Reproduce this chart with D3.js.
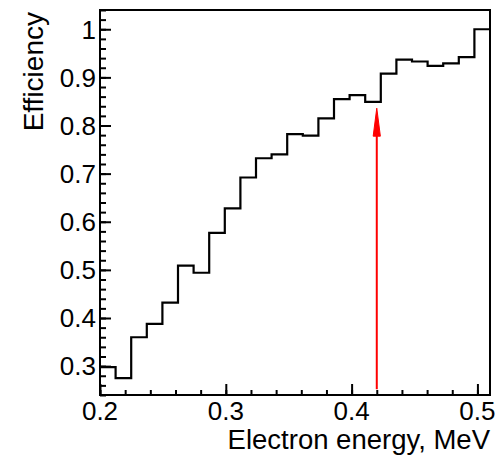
<!DOCTYPE html>
<html>
<head>
<meta charset="utf-8">
<script src="https://cdn.jsdelivr.net/npm/d3@7"></script>
<style>
  html, body { margin: 0; padding: 0; background: #fff; }
  svg { display: block; font-family: "Liberation Sans", Arial, Helvetica, sans-serif; }
</style>
</head>
<body>
<svg id="chart" width="496" height="456"></svg>
<script>
// Efficiency per electron-energy bin (25 equal bins from 0.2 to 0.51 MeV)
const binLow = 0.2;
const binHigh = 0.51;
const efficiency = [
  0.298, 0.275, 0.360, 0.388, 0.432, 0.509, 0.494, 0.577, 0.628, 0.692,
  0.732, 0.740, 0.782, 0.779, 0.815, 0.855, 0.863, 0.849, 0.908, 0.937,
  0.933, 0.924, 0.929, 0.942, 1.000
];
const xTicks = [0.2, 0.3, 0.4, 0.5];
const yTicks = [0.3, 0.4, 0.5, 0.6, 0.7, 0.8, 0.9, 1.0];
const yRange = [0.24, 1.04];

// Threshold marker arrow
const arrowX = 0.42;
const arrowFrom = 0.252;
const arrowTo = 0.836;

const svg = d3.select("#chart");
const frame = { left: 100, right: 490, top: 10, bottom: 395 };

const x = d3.scaleLinear().domain([binLow, binHigh]).range([frame.left, frame.right]);
const y = d3.scaleLinear().domain(yRange).range([frame.bottom, frame.top]);

const nBins = efficiency.length;
const binWidth = (binHigh - binLow) / nBins;

// Minor ticks every 0.02 on both axes
const xMinor = d3.range(0, 16).map(i => +(0.2 + i * 0.02).toFixed(3)).filter(v => v <= binHigh);
const yMinor = d3.range(0, 41).map(i => +(0.24 + i * 0.02).toFixed(3)).filter(v => v >= yRange[0] && v <= yRange[1]);

const axisColor = "#000";

// Bottom axis: major ticks with labels, minor ticks without
const gx = svg.append("g").attr("transform", `translate(0,${frame.bottom})`);
gx.call(d3.axisTop(x).tickValues(xMinor).tickSize(5).tickFormat(""));
gx.append("g").call(d3.axisTop(x).tickValues(xTicks).tickSize(11).tickFormat(""));
gx.selectAll(".domain").remove();
gx.selectAll("line").attr("stroke", axisColor).attr("stroke-width", 2);

svg.append("g").selectAll("text").data(xTicks).join("text")
  .attr("x", d => x(d))
  .attr("y", 420)
  .attr("text-anchor", "middle")
  .attr("font-size", 26)
  .text(d => d3.format(".1f")(d));

// Left axis
const gy = svg.append("g").attr("transform", `translate(${frame.left},0)`);
gy.call(d3.axisRight(y).tickValues(yMinor).tickSize(6).tickFormat(""));
gy.append("g").call(d3.axisRight(y).tickValues(yTicks).tickSize(11).tickFormat(""));
gy.selectAll(".domain").remove();
gy.selectAll("line").attr("stroke", axisColor).attr("stroke-width", 2);

svg.append("g").selectAll("text").data(yTicks).join("text")
  .attr("x", 96)
  .attr("y", d => y(d))
  .attr("dy", "0.36em")
  .attr("text-anchor", "end")
  .attr("font-size", 26)
  .text(d => d === 1 ? "1" : d3.format(".1f")(d));

// Histogram outline as a step line
const pts = [];
efficiency.forEach((v, i) => {
  pts.push([binLow + i * binWidth, v]);
  pts.push([binLow + (i + 1) * binWidth, v]);
});
svg.append("path")
  .datum(pts)
  .attr("fill", "none")
  .attr("stroke", "#000")
  .attr("stroke-width", 2.2)
  .attr("d", d3.line().x(d => x(d[0])).y(d => y(d[1])));

// Red arrow
const headLen = 28, headHalf = 3.6;
svg.append("line")
  .attr("x1", x(arrowX)).attr("x2", x(arrowX))
  .attr("y1", y(arrowFrom)).attr("y2", y(arrowTo) + headLen - 2)
  .attr("stroke", "#ff0000").attr("stroke-width", 2);
svg.append("path")
  .attr("d", `M${x(arrowX)},${y(arrowTo)} L${x(arrowX) + headHalf},${y(arrowTo) + headLen} L${x(arrowX) - headHalf},${y(arrowTo) + headLen} Z`)
  .attr("fill", "#ff0000").attr("stroke", "#ff0000").attr("stroke-width", 1);

// Frame
svg.append("rect")
  .attr("x", frame.left).attr("y", frame.top)
  .attr("width", frame.right - frame.left).attr("height", frame.bottom - frame.top)
  .attr("fill", "none").attr("stroke", "#000").attr("stroke-width", 2);

// Axis titles
svg.append("text")
  .attr("x", 490).attr("y", 449)
  .attr("text-anchor", "end")
  .attr("font-size", 27.5)
  .text("Electron energy, MeV");

svg.append("text")
  .attr("transform", "translate(43,12) rotate(-90)")
  .attr("text-anchor", "end")
  .attr("font-size", 28)
  .text("Efficiency");
</script>
</body>
</html>
